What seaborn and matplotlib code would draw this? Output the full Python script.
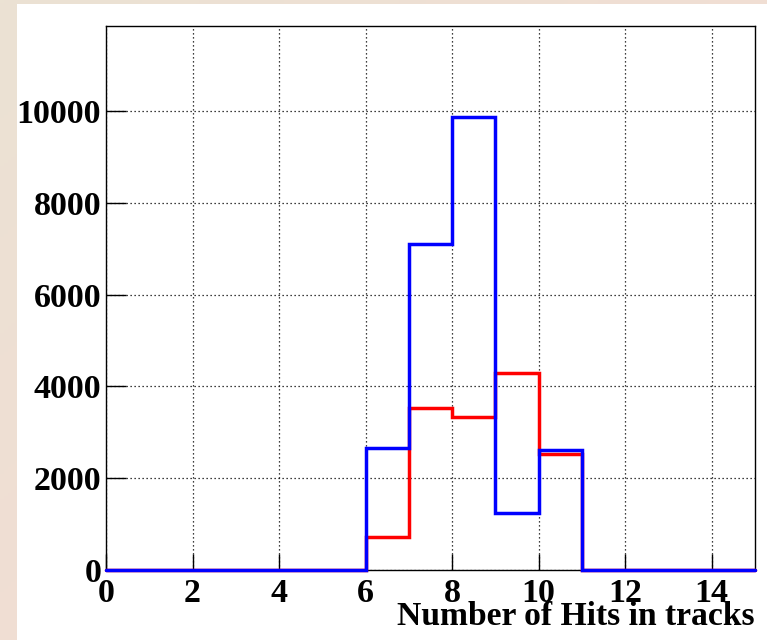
import numpy as np
import pandas as pd
import matplotlib
matplotlib.use("Agg")
import matplotlib.pyplot as plt
import seaborn as sns

# Histogram contents: number of hits per track, one entry per integer bin 0..14
bin_low = list(range(15))
counts_red = [0, 0, 0, 0, 0, 0, 725, 3530, 3330, 4290, 2520, 0, 0, 0, 0]
counts_blue = [0, 0, 0, 0, 0, 0, 2665, 7100, 9875, 1235, 2615, 0, 0, 0, 0]
x_ticks = [0, 2, 4, 6, 8, 10, 12, 14]
y_ticks = [0, 2000, 4000, 6000, 8000, 10000]
x_title = "Number of Hits in tracks"

df = pd.DataFrame({
    "nhits": [b + 0.5 for b in bin_low] * 2,
    "count": counts_red + counts_blue,
    "set": ["red"] * len(bin_low) + ["blue"] * len(bin_low),
})

sns.set_theme(style="white")
plt.rcParams["font.family"] = ["Liberation Serif", "DejaVu Serif"]
plt.rcParams["font.weight"] = "bold"

W, H = 767, 640
fig = plt.figure(figsize=(W / 100, H / 100), dpi=100)

# Canvas background: soft beige/pink gradient with a white pad on top of it
bg = fig.add_axes([0, 0, 1, 1], zorder=-10)
gx, gy = np.meshgrid(np.linspace(0, 1, 200), np.linspace(0, 1, 200))
t = np.clip((gx + gy) / 1.3, 0, 1)[..., None]
c0 = np.array([235, 226, 211]) / 255.0
c1 = np.array([242, 221, 211]) / 255.0
bg.imshow(c0 * (1 - t) + c1 * t, extent=[0, 1, 0, 1], aspect="auto", origin="upper")
bg.add_patch(plt.Rectangle((17 / W, 0), 1, 1 - 4 / H, color="white", lw=0))
bg.set_xlim(0, 1)
bg.set_ylim(0, 1)
bg.axis("off")

left, right = 106 / W, 755 / W
bottom, top = 1 - 570 / H, 1 - 26 / H
ax = fig.add_axes([left, bottom, right - left, top - bottom])
ax.set_facecolor("white")

for name, col in [("red", "#ff0000"), ("blue", "#0000ff")]:
    sns.histplot(data=df[df["set"] == name], x="nhits", weights="count",
                 binwidth=1, binrange=(0, 15), element="step", fill=False,
                 color=col, linewidth=2.5, ax=ax)
for i, ln in enumerate(ax.lines):
    ln.set_clip_on(False)
    ln.set_solid_joinstyle("miter")
    ln.set_zorder(3 + i)

ymax = 1.2 * max(counts_blue)
ax.set_xlim(0, 15)
ax.set_ylim(0, ymax)
ax.set_xticks(x_ticks)
ax.set_yticks(y_ticks)
ax.set_xticklabels([str(v) for v in x_ticks])
ax.set_yticklabels([str(v) for v in y_ticks])
ax.minorticks_off()

ax.grid(True, which="major", color="black", linestyle=(0, (1, 2.2)), linewidth=0.9)
ax.set_axisbelow(True)

for s in ax.spines.values():
    s.set_color("black")
    s.set_linewidth(1.0)
    s.set_visible(True)

ax.tick_params(axis="x", direction="in", length=11.5, width=1, color="black",
               pad=6, labelsize=24.5, bottom=True, top=False)
ax.tick_params(axis="y", direction="in", length=14.4, width=1, color="black",
               pad=3.5, labelsize=24.5, left=True, right=False)
for lab in ax.get_xticklabels() + ax.get_yticklabels():
    lab.set_fontweight("bold")
    lab.set_color("black")

ax.set_ylabel("")
ax.set_xlabel(x_title, fontsize=24.2, fontweight="bold", color="black", loc="right")
ax.xaxis.label.set_va("baseline")
ax.xaxis.label.set_ha("right")
ax.xaxis.set_label_coords(1.0, -(625 - 570) / (570 - 26))

fig.savefig("out.png", dpi=100)
